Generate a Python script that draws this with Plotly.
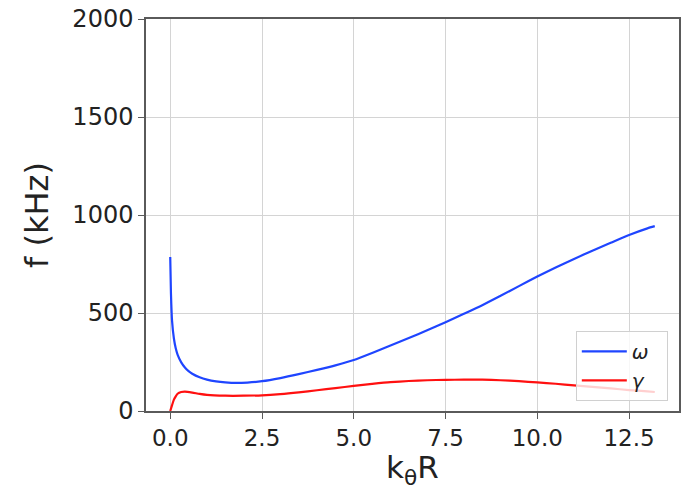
import plotly.graph_objects as go

# k_theta * R values and frequencies (kHz)
omega_k = [0.0, 0.02, 0.05, 0.1, 0.15, 0.2, 0.3, 0.4, 0.5, 0.6, 0.8, 1.0, 1.25, 1.5, 1.8,
           2.1, 2.5, 3.0, 3.5, 4.0, 4.5, 5.0, 5.5, 6.0, 6.5, 7.0, 7.5, 8.0, 8.5, 9.0,
           9.5, 10.0, 10.5, 11.0, 11.5, 12.0, 12.5, 13.0, 13.2]
omega_f = [786, 600, 460, 370, 320, 288, 248, 222, 203, 190, 172, 160, 151, 146, 143,
           145, 152, 168, 188, 210, 233, 260, 296, 334, 372, 412, 453, 496, 540, 588,
           637, 686, 732, 775, 818, 858, 898, 932, 943]

gamma_k = [0.0, 0.05, 0.1, 0.15, 0.2, 0.3, 0.4, 0.6, 0.8, 1.0, 1.5, 2.0, 2.5, 3.0, 3.5,
           4.0, 4.5, 5.0, 5.5, 6.0, 6.5, 7.0, 7.5, 8.0, 8.5, 9.0, 9.5, 10.0, 10.5, 11.0,
           11.5, 12.0, 12.5, 13.0, 13.2]
gamma_f = [0, 30, 58, 75, 88, 97, 99, 94, 87, 82, 78, 78, 80, 86, 95,
           106, 117, 128, 138, 147, 153, 157, 159, 160, 160, 157, 152, 146, 139, 131,
           123, 115, 107, 100, 97]

x_ticks = [0.0, 2.5, 5.0, 7.5, 10.0, 12.5]
y_ticks = [0, 500, 1000, 1500, 2000]

FONT = "DejaVu Sans"
TXT = "#222222"
AX = "#5a5a5a"
GRID = "#d4d4d4"

fig = go.Figure()
fig.add_trace(go.Scatter(x=omega_k, y=omega_f, mode="lines", name="<i>ω</i>&nbsp;&nbsp;",
                         line=dict(color="#1f45ff", width=2.2, shape="spline", smoothing=0.6)))
fig.add_trace(go.Scatter(x=gamma_k, y=gamma_f, mode="lines", name="<i>γ</i>&nbsp;&nbsp;",
                         line=dict(color="#ff1010", width=2.2, shape="spline", smoothing=0.6)))

fig.update_layout(
    width=691, height=490,
    margin=dict(l=146, r=12, t=19, b=79),
    paper_bgcolor="white", plot_bgcolor="white",
    font=dict(family=FONT, color=TXT, size=22),
    legend=dict(x=0.979, y=0.026, xanchor="right", yanchor="bottom",
                bgcolor="rgba(255,255,255,0.8)", bordercolor="#d0d0d0", borderwidth=1,
                font=dict(family=FONT, size=20, color=TXT), itemwidth=45,
                tracegroupgap=0),
    xaxis=dict(
        range=[-0.66, 13.86], automargin=False,
        tickvals=x_ticks, ticktext=[f"{v:.1f}" for v in x_ticks],
        showgrid=True, gridcolor=GRID, gridwidth=1, zeroline=False,
        showline=True, linecolor=AX, linewidth=1.5, mirror=True,
        ticks="outside", ticklen=6, tickwidth=1.2, tickcolor=AX,
        tickfont=dict(family=FONT, size=23, color=TXT),
        title=dict(text="k<sub>θ</sub>R", font=dict(family=FONT, size=31, color=TXT), standoff=13),
    ),
    yaxis=dict(
        range=[0, 2000], automargin=False,
        tickvals=y_ticks,
        showgrid=True, gridcolor=GRID, gridwidth=1, zeroline=False,
        showline=True, linecolor=AX, linewidth=1.5, mirror=True,
        ticks="outside", ticklen=6, tickwidth=1.2, tickcolor=AX,
        tickfont=dict(family=FONT, size=24, color=TXT),
        title=dict(text="f (kHz)", font=dict(family=FONT, size=32, color=TXT), standoff=14),
    ),
)

fig.write_html("out.html", config={"displayModeBar": False},
               post_script="document.body.style.margin='0';")
